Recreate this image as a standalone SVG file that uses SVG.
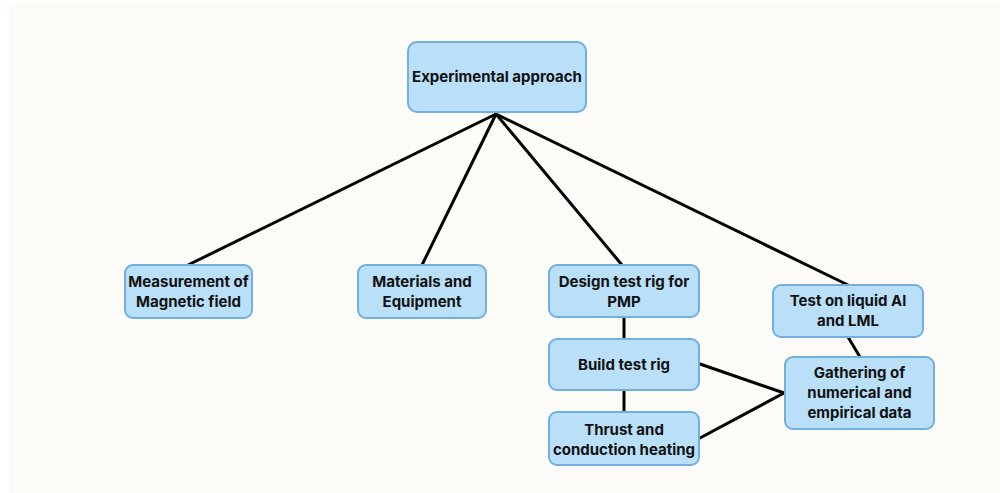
<svg xmlns="http://www.w3.org/2000/svg" width="1000" height="493" viewBox="0 0 1000 493">
  <style>
    .node rect { fill: #B9E0F8; stroke: #6FB0DD; stroke-width: 2; }
    .node text { font-family: Inter, "Liberation Sans", sans-serif; font-weight: 700; font-size: 15px; fill: #111111; text-anchor: middle; }
    #connectors line { stroke: #000000; stroke-width: 3; stroke-linecap: round; }
  </style>
  <rect x="0" y="0" width="1000" height="493" fill="#FFFFFF"/>
  <rect x="9" y="3" width="991" height="490" fill="#FDFBF7"/>

  <g id="connectors">
    <line x1="496" y1="114" x2="188" y2="265"/>
    <line x1="496" y1="114" x2="422" y2="265"/>
    <line x1="496" y1="114" x2="622" y2="265"/>
    <line x1="496" y1="114" x2="848" y2="285"/>
    <line x1="624" y1="317" x2="624" y2="339"/>
    <line x1="624" y1="390" x2="624" y2="412"/>
    <line x1="848" y1="337" x2="860" y2="357"/>
    <line x1="700" y1="364" x2="784" y2="393"/>
    <line x1="700" y1="438" x2="784" y2="393"/>
  </g>

  <g id="experimental-approach" class="node">
    <rect x="408" y="42" width="178" height="70" rx="9"/>
    <text x="497" y="82">Experimental approach</text>
  </g>
  <g id="measurement" class="node">
    <rect x="125" y="265" width="127" height="53" rx="8"/>
    <text x="188.5" y="287">Measurement of</text>
    <text x="188.5" y="307">Magnetic field</text>
  </g>
  <g id="materials" class="node">
    <rect x="358" y="265" width="128" height="53" rx="8"/>
    <text x="422" y="287">Materials and</text>
    <text x="422" y="307">Equipment</text>
  </g>
  <g id="design-rig" class="node">
    <rect x="549" y="265" width="150" height="52" rx="8"/>
    <text x="624" y="287">Design test rig for</text>
    <text x="624" y="307">PMP</text>
  </g>
  <g id="test-liquid" class="node">
    <rect x="773" y="285" width="150" height="52" rx="8"/>
    <text x="848" y="306">Test on liquid Al</text>
    <text x="848" y="326">and LML</text>
  </g>
  <g id="build-rig" class="node">
    <rect x="549" y="339" width="150" height="51" rx="8"/>
    <text x="624" y="370">Build test rig</text>
  </g>
  <g id="thrust" class="node">
    <rect x="549" y="412" width="150" height="53" rx="8"/>
    <text x="624" y="435">Thrust and</text>
    <text x="624" y="455">conduction heating</text>
  </g>
  <g id="gathering" class="node">
    <rect x="785" y="357" width="149" height="72" rx="8"/>
    <text x="859.5" y="378">Gathering of</text>
    <text x="859.5" y="398">numerical and</text>
    <text x="859.5" y="418">empirical data</text>
  </g>
</svg>
